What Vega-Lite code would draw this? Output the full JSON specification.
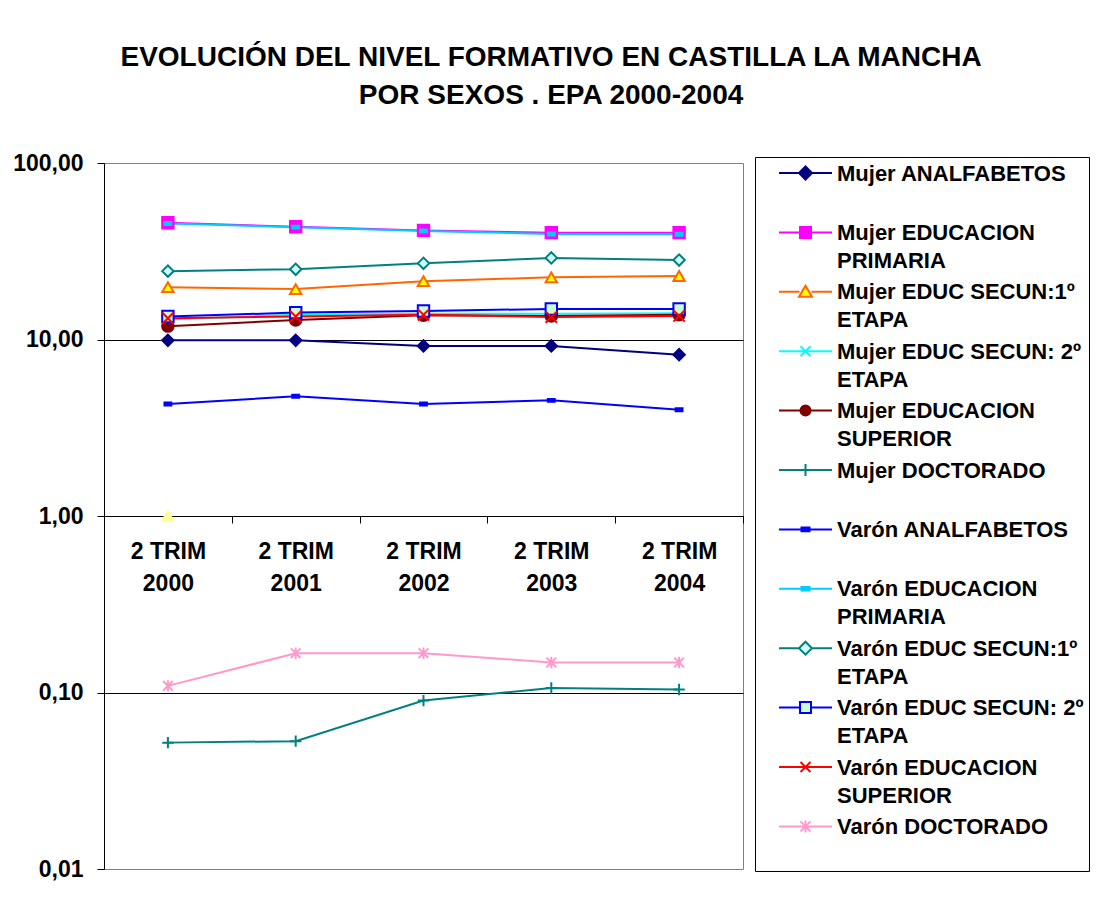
{
  "$schema": "https://vega.github.io/schema/vega-lite/v6.json",
  "width": 639,
  "height": 706,
  "padding": {"left": 12, "top": 44, "right": 5, "bottom": 0},
  "background": "white",
  "title": {
    "text": ["EVOLUCIÓN DEL NIVEL FORMATIVO EN CASTILLA LA MANCHA", "POR SEXOS . EPA 2000-2004"],
    "anchor": "middle",
    "frame": "bounds",
    "font": "Liberation Sans",
    "fontSize": 28,
    "fontWeight": "bold",
    "color": "black",
    "lineHeight": 38,
    "offset": 42
  },
  "config": {
    "view": {"stroke": "#808080", "strokeWidth": 1}
  },
  "data": {
    "values": [
      {"period": "2 TRIM 2000", "series": "Mujer ANALFABETOS", "value": 9.9},
      {"period": "2 TRIM 2001", "series": "Mujer ANALFABETOS", "value": 9.9},
      {"period": "2 TRIM 2002", "series": "Mujer ANALFABETOS", "value": 9.2},
      {"period": "2 TRIM 2003", "series": "Mujer ANALFABETOS", "value": 9.2},
      {"period": "2 TRIM 2004", "series": "Mujer ANALFABETOS", "value": 8.2},
      {"period": "2 TRIM 2000", "series": "Mujer EDUCACION PRIMARIA", "value": 45.9},
      {"period": "2 TRIM 2001", "series": "Mujer EDUCACION PRIMARIA", "value": 43.5},
      {"period": "2 TRIM 2002", "series": "Mujer EDUCACION PRIMARIA", "value": 41.5},
      {"period": "2 TRIM 2003", "series": "Mujer EDUCACION PRIMARIA", "value": 40.3},
      {"period": "2 TRIM 2004", "series": "Mujer EDUCACION PRIMARIA", "value": 40.3},
      {"period": "2 TRIM 2000", "series": "Mujer EDUC SECUN:1º ETAPA", "value": 19.8},
      {"period": "2 TRIM 2001", "series": "Mujer EDUC SECUN:1º ETAPA", "value": 19.3},
      {"period": "2 TRIM 2002", "series": "Mujer EDUC SECUN:1º ETAPA", "value": 21.4},
      {"period": "2 TRIM 2003", "series": "Mujer EDUC SECUN:1º ETAPA", "value": 22.5},
      {"period": "2 TRIM 2004", "series": "Mujer EDUC SECUN:1º ETAPA", "value": 22.9},
      {"period": "2 TRIM 2000", "series": "Mujer EDUC SECUN: 2º ETAPA", "value": 13.0},
      {"period": "2 TRIM 2001", "series": "Mujer EDUC SECUN: 2º ETAPA", "value": 13.8},
      {"period": "2 TRIM 2002", "series": "Mujer EDUC SECUN: 2º ETAPA", "value": 14.0},
      {"period": "2 TRIM 2003", "series": "Mujer EDUC SECUN: 2º ETAPA", "value": 14.0},
      {"period": "2 TRIM 2004", "series": "Mujer EDUC SECUN: 2º ETAPA", "value": 14.1},
      {"period": "2 TRIM 2000", "series": "Mujer EDUCACION SUPERIOR", "value": 11.9},
      {"period": "2 TRIM 2001", "series": "Mujer EDUCACION SUPERIOR", "value": 12.9},
      {"period": "2 TRIM 2002", "series": "Mujer EDUCACION SUPERIOR", "value": 13.7},
      {"period": "2 TRIM 2003", "series": "Mujer EDUCACION SUPERIOR", "value": 13.6},
      {"period": "2 TRIM 2004", "series": "Mujer EDUCACION SUPERIOR", "value": 13.8},
      {"period": "2 TRIM 2000", "series": "Mujer DOCTORADO", "value": 0.052},
      {"period": "2 TRIM 2001", "series": "Mujer DOCTORADO", "value": 0.053},
      {"period": "2 TRIM 2002", "series": "Mujer DOCTORADO", "value": 0.09},
      {"period": "2 TRIM 2003", "series": "Mujer DOCTORADO", "value": 0.106},
      {"period": "2 TRIM 2004", "series": "Mujer DOCTORADO", "value": 0.104},
      {"period": "2 TRIM 2000", "series": "Varón ANALFABETOS", "value": 4.31},
      {"period": "2 TRIM 2001", "series": "Varón ANALFABETOS", "value": 4.77},
      {"period": "2 TRIM 2002", "series": "Varón ANALFABETOS", "value": 4.31},
      {"period": "2 TRIM 2003", "series": "Varón ANALFABETOS", "value": 4.52},
      {"period": "2 TRIM 2004", "series": "Varón ANALFABETOS", "value": 4.0},
      {"period": "2 TRIM 2000", "series": "Varón EDUCACION PRIMARIA", "value": 45.4},
      {"period": "2 TRIM 2001", "series": "Varón EDUCACION PRIMARIA", "value": 43.3},
      {"period": "2 TRIM 2002", "series": "Varón EDUCACION PRIMARIA", "value": 41.2},
      {"period": "2 TRIM 2003", "series": "Varón EDUCACION PRIMARIA", "value": 39.6},
      {"period": "2 TRIM 2004", "series": "Varón EDUCACION PRIMARIA", "value": 39.5},
      {"period": "2 TRIM 2000", "series": "Varón EDUC SECUN:1º ETAPA", "value": 24.4},
      {"period": "2 TRIM 2001", "series": "Varón EDUC SECUN:1º ETAPA", "value": 25.0},
      {"period": "2 TRIM 2002", "series": "Varón EDUC SECUN:1º ETAPA", "value": 27.0},
      {"period": "2 TRIM 2003", "series": "Varón EDUC SECUN:1º ETAPA", "value": 29.0},
      {"period": "2 TRIM 2004", "series": "Varón EDUC SECUN:1º ETAPA", "value": 28.2},
      {"period": "2 TRIM 2000", "series": "Varón EDUC SECUN: 2º ETAPA", "value": 13.5},
      {"period": "2 TRIM 2001", "series": "Varón EDUC SECUN: 2º ETAPA", "value": 14.2},
      {"period": "2 TRIM 2002", "series": "Varón EDUC SECUN: 2º ETAPA", "value": 14.5},
      {"period": "2 TRIM 2003", "series": "Varón EDUC SECUN: 2º ETAPA", "value": 14.9},
      {"period": "2 TRIM 2004", "series": "Varón EDUC SECUN: 2º ETAPA", "value": 14.9},
      {"period": "2 TRIM 2000", "series": "Varón EDUCACION SUPERIOR", "value": 13.2},
      {"period": "2 TRIM 2001", "series": "Varón EDUCACION SUPERIOR", "value": 13.5},
      {"period": "2 TRIM 2002", "series": "Varón EDUCACION SUPERIOR", "value": 13.8},
      {"period": "2 TRIM 2003", "series": "Varón EDUCACION SUPERIOR", "value": 13.4},
      {"period": "2 TRIM 2004", "series": "Varón EDUCACION SUPERIOR", "value": 13.6},
      {"period": "2 TRIM 2000", "series": "Varón DOCTORADO", "value": 0.109},
      {"period": "2 TRIM 2001", "series": "Varón DOCTORADO", "value": 0.167},
      {"period": "2 TRIM 2002", "series": "Varón DOCTORADO", "value": 0.167},
      {"period": "2 TRIM 2003", "series": "Varón DOCTORADO", "value": 0.148},
      {"period": "2 TRIM 2004", "series": "Varón DOCTORADO", "value": 0.148},
      {"period": "2 TRIM 2000", "series": "otro", "value": 1.0}
    ]
  },
  "encoding": {
    "x": {
      "field": "period",
      "type": "ordinal",
      "title": null,
      "bandPosition": 0.5,
      "scale": {"type": "band", "paddingInner": 0, "paddingOuter": 0},
      "axis": {
        "orient": "bottom",
        "offset": -353,
        "grid": false,
        "domainColor": "black",
        "domainWidth": 1,
        "tickColor": "black",
        "tickSize": 7,
        "tickWidth": 1,
        "tickBand": "extent",
        "labelAngle": 0,
        "labelFont": "Liberation Sans",
        "labelFontSize": 23,
        "labelFontWeight": "bold",
        "labelColor": "black",
        "labelPadding": 17,
        "labelBaseline": "top",
        "labelLineHeight": 32,
        "labelExpr": "[substring(datum.label, 0, 6), substring(datum.label, 7)]"
      }
    },
    "y": {
      "field": "value",
      "type": "quantitative",
      "title": null,
      "scale": {"type": "log", "domain": [0.01, 100], "nice": false},
      "axis": {
        "values": [0.01, 0.1, 1, 10, 100],
        "labelExpr": "replace(format(datum.value, '.2f'), '.', ',')",
        "domainColor": "black",
        "tickColor": "black",
        "tickSize": 7,
        "grid": true,
        "gridColor": "black",
        "gridOpacity": {"condition": {"test": "datum.value == 100 || datum.value == 0.01", "value": 0}, "value": 1},
        "labelFont": "Liberation Sans",
        "labelFontSize": 23,
        "labelFontWeight": "bold",
        "labelColor": "black",
        "labelPadding": 14
      }
    }
  },
  "layer": [
    {
      "transform": [{"filter": "datum.series != 'otro'"}],
      "mark": {"type": "line", "strokeWidth": 2},
      "encoding": {
        "color": {
          "field": "series",
          "type": "nominal",
          "legend": null,
          "scale": {
            "domain": ["Mujer ANALFABETOS", "Mujer EDUCACION PRIMARIA", "Mujer EDUC SECUN:1º ETAPA", "Mujer EDUC SECUN: 2º ETAPA", "Mujer EDUCACION SUPERIOR", "Mujer DOCTORADO", "Varón ANALFABETOS", "Varón EDUCACION PRIMARIA", "Varón EDUC SECUN:1º ETAPA", "Varón EDUC SECUN: 2º ETAPA", "Varón EDUCACION SUPERIOR", "Varón DOCTORADO"],
            "range": ["#000080", "#FF00FF", "#FF6600", "#00FFFF", "#800000", "#008080", "#0000FF", "#00CCFF", "#008080", "#0000FF", "#FF0000", "#FF99CC"]
          }
        }
      }
    },
    {
      "mark": {"type": "point", "opacity": 1, "size": 130, "strokeWidth": 2},
      "encoding": {
        "shape": {
          "field": "series",
          "type": "nominal",
          "legend": null,
          "scale": {
            "domain": ["Mujer ANALFABETOS", "Mujer EDUCACION PRIMARIA", "Mujer EDUC SECUN:1º ETAPA", "Mujer EDUC SECUN: 2º ETAPA", "Mujer EDUCACION SUPERIOR", "Mujer DOCTORADO", "Varón ANALFABETOS", "Varón EDUCACION PRIMARIA", "Varón EDUC SECUN:1º ETAPA", "Varón EDUC SECUN: 2º ETAPA", "Varón EDUCACION SUPERIOR", "Varón DOCTORADO", "otro"],
            "range": ["diamond", "square", "triangle-up", "M-1,-1L1,1M-1,1L1,-1", "circle", "M-1,0H1M0,-1V1", "M-0.6,-0.25H0.6V0.25H-0.6Z", "M-0.6,-0.25H0.6V0.25H-0.6Z", "diamond", "square", "M-1,-1L1,1M-1,1L1,-1", "M0,-1V1M-0.85,-0.85L0.85,0.85M-0.85,0.85L0.85,-0.85", "triangle-up"]
          }
        },
        "stroke": {
          "field": "series",
          "type": "nominal",
          "legend": null,
          "scale": {
            "domain": ["Mujer ANALFABETOS", "Mujer EDUCACION PRIMARIA", "Mujer EDUC SECUN:1º ETAPA", "Mujer EDUC SECUN: 2º ETAPA", "Mujer EDUCACION SUPERIOR", "Mujer DOCTORADO", "Varón ANALFABETOS", "Varón EDUCACION PRIMARIA", "Varón EDUC SECUN:1º ETAPA", "Varón EDUC SECUN: 2º ETAPA", "Varón EDUCACION SUPERIOR", "Varón DOCTORADO", "otro"],
            "range": ["#000080", "#FF00FF", "#FF6600", "#00FFFF", "#800000", "#008080", "#0000FF", "#00CCFF", "#008080", "#0000FF", "#FF0000", "#FF99CC", "#FFFF99"]
          }
        },
        "fill": {
          "field": "series",
          "type": "nominal",
          "legend": null,
          "scale": {
            "domain": ["Mujer ANALFABETOS", "Mujer EDUCACION PRIMARIA", "Mujer EDUC SECUN:1º ETAPA", "Mujer EDUC SECUN: 2º ETAPA", "Mujer EDUCACION SUPERIOR", "Mujer DOCTORADO", "Varón ANALFABETOS", "Varón EDUCACION PRIMARIA", "Varón EDUC SECUN:1º ETAPA", "Varón EDUC SECUN: 2º ETAPA", "Varón EDUCACION SUPERIOR", "Varón DOCTORADO", "otro"],
            "range": ["#000080", "#FF00FF", "#FFFF00", "transparent", "#800000", "transparent", "#0000FF", "#00CCFF", "#CCFFFF", "#CCFFCC", "transparent", "transparent", "#FFFF99"]
          }
        }
      }
    },
    {
      "transform": [{"filter": "false"}],
      "mark": {"type": "point", "opacity": 1, "size": 400, "strokeWidth": 2},
      "encoding": {
        "shape": {
          "field": "series",
          "type": "nominal",
          "scale": {
            "domain": ["Mujer ANALFABETOS", "Mujer EDUCACION PRIMARIA", "Mujer EDUC SECUN:1º ETAPA", "Mujer EDUC SECUN: 2º ETAPA", "Mujer EDUCACION SUPERIOR", "Mujer DOCTORADO", "Varón ANALFABETOS", "Varón EDUCACION PRIMARIA", "Varón EDUC SECUN:1º ETAPA", "Varón EDUC SECUN: 2º ETAPA", "Varón EDUCACION SUPERIOR", "Varón DOCTORADO"],
            "range": [
              "M-2.65,0H-0.65M0.65,0H2.65M0,-0.65L0.65,0L0,0.65L-0.65,0Z",
              "M-2.65,0H-0.55M0.55,0H2.65M-0.55,-0.55H0.55V0.55H-0.55Z",
              "M-2.65,0H-0.6M0.6,0H2.65M0,-0.6L0.65,0.5H-0.65Z",
              "M-2.65,0H2.65M-0.5,-0.5L0.5,0.5M-0.5,0.5L0.5,-0.5",
              "M-2.65,0H-0.5M0.5,0H2.65M-0.5,0A0.5,0.5 0 1 0 0.5,0A0.5,0.5 0 1 0 -0.5,0Z",
              "M-2.65,0H2.65M0,-0.6V0.6",
              "M-2.65,0H2.65M-0.4,-0.18H0.4V0.18H-0.4Z",
              "M-2.65,0H2.65M-0.4,-0.18H0.4V0.18H-0.4Z",
              "M-2.65,0H-0.65M0.65,0H2.65M0,-0.65L0.65,0L0,0.65L-0.65,0Z",
              "M-2.65,0H-0.55M0.55,0H2.65M-0.55,-0.55H0.55V0.55H-0.55Z",
              "M-2.65,0H2.65M-0.5,-0.5L0.5,0.5M-0.5,0.5L0.5,-0.5",
              "M-2.65,0H2.65M0,-0.6V0.6M-0.5,-0.5L0.5,0.5M-0.5,0.5L0.5,-0.5"
            ]
          },
          "legend": {
            "title": null, "orient": "none", "legendX": 651, "legendY": -6, "direction": "vertical",
            "padding": 5, "strokeColor": "black", "fillColor": "white",
            "labelFont": "Liberation Sans", "labelFontSize": 22, "labelFontWeight": "bold", "labelColor": "black",
            "labelLimit": 400, "labelBaseline": "top", "labelOffset": 20.5, "symbolOffset": 34.5,
            "symbolSize": 400, "symbolStrokeWidth": 2, "rowPadding": 8.4, "gridAlign": "all",
            "labelExpr": "length(datum.label) > 18 ? [slice(datum.label, 0, lastindexof(datum.label, ' ')), slice(datum.label, lastindexof(datum.label, ' ') + 1)] : [datum.label, '']",
            "encoding": {"labels": {"dy": {"value": -9.5}, "lineHeight": {"value": 28}}}
          }
        },
        "stroke": {
          "field": "series",
          "type": "nominal",
          "scale": {
            "domain": ["Mujer ANALFABETOS", "Mujer EDUCACION PRIMARIA", "Mujer EDUC SECUN:1º ETAPA", "Mujer EDUC SECUN: 2º ETAPA", "Mujer EDUCACION SUPERIOR", "Mujer DOCTORADO", "Varón ANALFABETOS", "Varón EDUCACION PRIMARIA", "Varón EDUC SECUN:1º ETAPA", "Varón EDUC SECUN: 2º ETAPA", "Varón EDUCACION SUPERIOR", "Varón DOCTORADO"],
            "range": ["#000080", "#FF00FF", "#FF6600", "#00FFFF", "#800000", "#008080", "#0000FF", "#00CCFF", "#008080", "#0000FF", "#FF0000", "#FF99CC"]
          },
          "legend": {
            "title": null, "orient": "none", "legendX": 651, "legendY": -6, "direction": "vertical",
            "padding": 5, "strokeColor": "black", "fillColor": "white",
            "labelFont": "Liberation Sans", "labelFontSize": 22, "labelFontWeight": "bold", "labelColor": "black",
            "labelLimit": 400, "labelBaseline": "top", "labelOffset": 20.5, "symbolOffset": 34.5,
            "symbolSize": 400, "symbolStrokeWidth": 2, "rowPadding": 8.4, "gridAlign": "all",
            "labelExpr": "length(datum.label) > 18 ? [slice(datum.label, 0, lastindexof(datum.label, ' ')), slice(datum.label, lastindexof(datum.label, ' ') + 1)] : [datum.label, '']",
            "encoding": {"labels": {"dy": {"value": -9.5}, "lineHeight": {"value": 28}}}
          }
        },
        "fill": {
          "field": "series",
          "type": "nominal",
          "scale": {
            "domain": ["Mujer ANALFABETOS", "Mujer EDUCACION PRIMARIA", "Mujer EDUC SECUN:1º ETAPA", "Mujer EDUC SECUN: 2º ETAPA", "Mujer EDUCACION SUPERIOR", "Mujer DOCTORADO", "Varón ANALFABETOS", "Varón EDUCACION PRIMARIA", "Varón EDUC SECUN:1º ETAPA", "Varón EDUC SECUN: 2º ETAPA", "Varón EDUCACION SUPERIOR", "Varón DOCTORADO"],
            "range": ["#000080", "#FF00FF", "#FFFF00", "transparent", "#800000", "transparent", "#0000FF", "#00CCFF", "#CCFFFF", "#CCFFCC", "transparent", "transparent"]
          },
          "legend": {
            "title": null, "orient": "none", "legendX": 651, "legendY": -6, "direction": "vertical",
            "padding": 5, "strokeColor": "black", "fillColor": "white",
            "labelFont": "Liberation Sans", "labelFontSize": 22, "labelFontWeight": "bold", "labelColor": "black",
            "labelLimit": 400, "labelBaseline": "top", "labelOffset": 20.5, "symbolOffset": 34.5,
            "symbolSize": 400, "symbolStrokeWidth": 2, "rowPadding": 8.4, "gridAlign": "all",
            "labelExpr": "length(datum.label) > 18 ? [slice(datum.label, 0, lastindexof(datum.label, ' ')), slice(datum.label, lastindexof(datum.label, ' ') + 1)] : [datum.label, '']",
            "encoding": {"labels": {"dy": {"value": -9.5}, "lineHeight": {"value": 28}}}
          }
        }
      }
    }
  ],
  "resolve": {"scale": {"shape": "independent", "stroke": "independent", "fill": "independent", "color": "independent"}}
}
